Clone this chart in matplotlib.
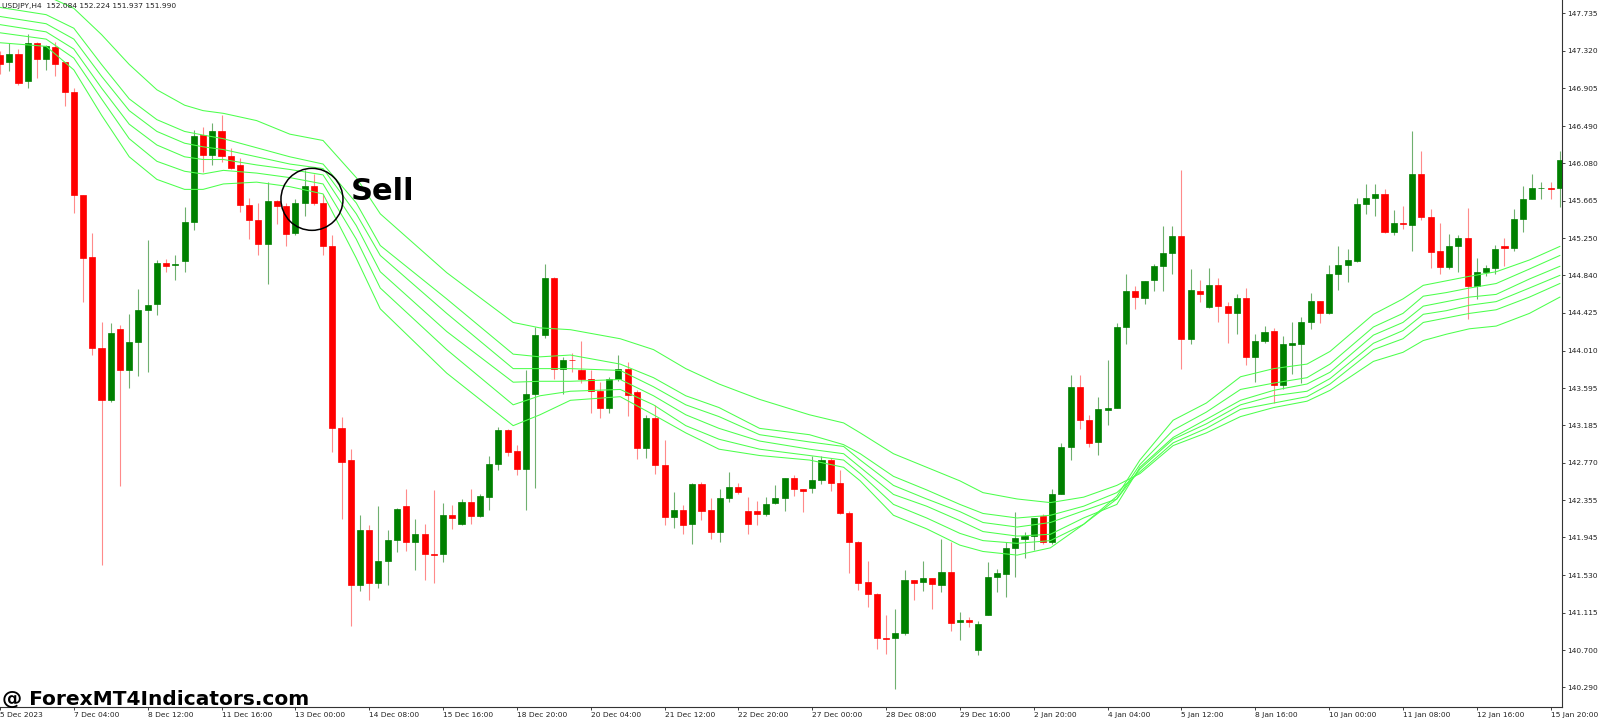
import matplotlib
matplotlib.use("Agg")
import matplotlib.pyplot as plt
from matplotlib.patches import Ellipse

SYMBOL_TEXT = "USDJPY,H4  152.084 152.224 151.937 151.990"
WATERMARK = "@ ForexMT4Indicators.com"

opens = [
    147.27, 147.20, 147.29, 146.99, 147.41, 147.23, 147.36, 147.20, 146.87, 145.73,
    145.04, 144.04, 143.46, 144.25, 143.79, 144.10, 144.46, 144.52, 144.98, 144.95,
    145.00, 145.43, 146.39, 146.17, 146.43, 146.16, 146.06, 145.62, 145.45, 145.19,
    145.66, 145.61, 145.31, 145.64, 145.83, 145.64, 145.17, 143.15, 142.80, 141.42,
    142.03, 141.44, 141.69, 141.92, 142.29, 141.90, 141.98, 141.76, 141.76, 142.19,
    142.09, 142.34, 142.18, 142.39, 142.76, 143.13, 142.90, 142.70, 143.53, 144.18,
    144.81, 143.81, 143.91, 143.80, 143.70, 143.56, 143.38, 143.69, 143.81, 143.55,
    142.93, 143.27, 142.74, 142.17, 142.25, 142.09, 142.54, 142.25, 142.01, 142.38,
    142.50, 142.24, 142.24, 142.20, 142.33, 142.38, 142.60, 142.48, 142.49, 142.58,
    142.80, 142.55, 142.21, 141.90, 141.45, 141.32, 140.83, 140.83, 140.89, 141.47,
    141.45, 141.50, 141.42, 141.56, 141.01, 141.03, 140.70, 141.09, 141.51, 141.54,
    141.83, 141.93, 141.96, 142.18, 141.90, 142.43, 142.94, 143.61, 143.24, 143.00,
    143.35, 143.38, 144.27, 144.67, 144.59, 144.79, 144.94, 145.09, 145.28, 144.14,
    144.67, 144.49, 144.73, 144.50, 144.42, 144.59, 143.94, 144.11, 144.23, 143.63,
    144.07, 144.08, 144.32, 144.56, 144.42, 144.86, 144.95, 145.00, 145.63, 145.70,
    145.74, 145.32, 145.42, 145.40, 145.96, 145.49, 145.11, 144.93, 145.16, 145.25,
    144.72, 144.88, 144.92, 145.16, 145.14, 145.46, 145.68, 145.80, 145.80, 145.81,
]

highs = [
    147.32, 147.41, 147.34, 147.51, 147.42, 147.39, 147.42, 147.20, 146.91, 145.73,
    145.31, 144.33, 144.31, 144.29, 144.41, 144.69, 145.23, 145.01, 145.02, 145.07,
    145.59, 146.45, 146.48, 146.52, 146.61, 146.25, 146.14, 145.69, 145.64, 145.87,
    145.67, 145.64, 145.68, 146.00, 145.96, 145.74, 145.29, 143.28, 142.92, 142.19,
    142.08, 142.29, 142.03, 142.27, 142.48, 142.15, 142.09, 142.47, 142.33, 142.30,
    142.37, 142.48, 142.42, 142.84, 143.17, 143.14, 142.97, 143.80, 144.27, 144.97,
    144.82, 143.94, 143.98, 144.11, 143.79, 143.66, 143.72, 143.96, 143.88, 143.57,
    143.30, 143.41, 143.02, 142.45, 142.30, 142.55, 142.56, 142.38, 142.48, 142.67,
    142.55, 142.39, 142.35, 142.39, 142.52, 142.60, 142.63, 142.48, 142.85, 142.85,
    142.82, 142.69, 142.24, 141.91, 141.68, 141.33, 141.09, 141.15, 141.59, 141.47,
    141.68, 141.50, 141.93, 141.89, 141.12, 141.07, 141.02, 141.67, 141.60, 141.89,
    142.23, 142.01, 142.16, 142.20, 142.48, 142.99, 143.74, 143.74, 143.30, 143.50,
    143.90, 144.31, 144.85, 144.72, 144.78, 144.97, 145.39, 145.39, 146.00, 144.91,
    144.79, 144.92, 144.81, 144.55, 144.63, 144.70, 144.19, 144.28, 144.26, 144.17,
    144.33, 144.38, 144.65, 144.56, 144.95, 145.17, 145.13, 145.69, 145.85, 145.85,
    145.79, 145.56, 145.61, 146.43, 146.21, 145.57, 145.42, 145.30, 145.29, 145.58,
    145.03, 144.96, 145.18, 145.25, 145.57, 145.83, 145.96, 145.87, 145.87, 146.21,
]

lows = [
    147.06, 147.10, 146.94, 146.91, 147.02, 147.11, 147.04, 146.71, 145.53, 144.55,
    143.96, 141.64, 143.44, 142.51, 143.60, 143.73, 143.77, 144.40, 144.88, 144.79,
    144.88, 145.34, 145.98, 146.06, 146.09, 146.02, 145.54, 145.24, 145.07, 144.74,
    145.41, 145.17, 145.29, 145.50, 145.62, 145.06, 142.89, 142.15, 140.97, 141.35,
    141.25, 141.39, 141.42, 141.78, 141.80, 141.58, 141.48, 141.44, 141.67, 142.04,
    142.08, 142.09, 142.17, 142.25, 142.69, 142.85, 142.63, 142.25, 142.49, 144.15,
    143.70, 143.53, 143.77, 143.65, 143.32, 143.27, 143.32, 143.67, 143.29, 142.81,
    142.82, 142.65, 142.08, 142.05, 141.98, 141.87, 142.14, 141.93, 141.90, 142.34,
    142.42, 141.98, 142.08, 142.18, 142.31, 142.24, 142.40, 142.23, 142.44, 142.53,
    142.46, 142.20, 141.55, 141.36, 141.18, 140.71, 140.66, 140.27, 140.87, 141.25,
    141.35, 141.15, 141.34, 140.91, 140.81, 140.96, 140.65, 141.09, 141.34, 141.29,
    141.51, 141.72, 141.81, 141.87, 141.87, 142.42, 142.80, 143.14, 142.94, 142.86,
    143.19, 143.37, 144.08, 144.47, 144.52, 144.67, 144.67, 144.85, 143.81, 144.08,
    144.55, 144.48, 144.33, 144.09, 144.19, 143.85, 143.66, 144.09, 143.43, 143.58,
    143.75, 143.65, 144.25, 144.31, 144.41, 144.68, 144.77, 144.99, 145.52, 145.50,
    145.31, 145.29, 145.35, 145.11, 145.45, 144.92, 144.85, 144.91, 144.88, 144.36,
    144.58, 144.83, 144.85, 144.94, 145.11, 145.32, 145.68, 145.68, 145.68, 145.59,
]

closes = [
    147.18, 147.29, 146.97, 147.41, 147.23, 147.37, 147.18, 146.87, 145.73, 145.03,
    144.04, 143.46, 144.20, 143.79, 144.10, 144.46, 144.51, 144.98, 144.94, 144.97,
    145.43, 146.38, 146.17, 146.43, 146.16, 146.03, 145.62, 145.45, 145.19, 145.66,
    145.61, 145.30, 145.64, 145.83, 145.64, 145.17, 143.15, 142.78, 141.42, 142.03,
    141.44, 141.69, 141.92, 142.26, 141.90, 141.98, 141.76, 141.75, 142.19, 142.16,
    142.34, 142.18, 142.40, 142.76, 143.13, 142.89, 142.70, 143.53, 144.18, 144.81,
    143.81, 143.91, 143.90, 143.70, 143.56, 143.38, 143.69, 143.81, 143.52, 142.93,
    143.27, 142.74, 142.17, 142.25, 142.08, 142.54, 142.24, 142.01, 142.38, 142.50,
    142.45, 142.09, 142.20, 142.31, 142.38, 142.60, 142.48, 142.46, 142.58, 142.80,
    142.55, 142.21, 141.90, 141.44, 141.32, 140.83, 140.82, 140.89, 141.47, 141.44,
    141.50, 141.43, 141.56, 141.00, 141.03, 141.01, 140.99, 141.51, 141.55, 141.83,
    141.94, 141.96, 142.16, 141.90, 142.43, 142.94, 143.61, 143.24, 142.99, 143.36,
    143.38, 144.27, 144.67, 144.60, 144.78, 144.94, 145.09, 145.28, 144.14, 144.68,
    144.63, 144.73, 144.50, 144.42, 144.59, 143.94, 144.11, 144.22, 143.63, 144.08,
    144.09, 144.32, 144.56, 144.42, 144.86, 144.95, 145.01, 145.63, 145.70, 145.74,
    145.32, 145.42, 145.41, 145.96, 145.49, 145.10, 144.93, 145.16, 145.25, 144.72,
    144.88, 144.92, 145.13, 145.14, 145.46, 145.68, 145.80, 145.81, 145.79, 146.11,
]

# ribbon of six moving averages, sampled at these bar positions (fast -> slow)
ribbon_bars = [
    0, 5, 8, 11, 14, 17, 20, 22, 24.2, 27.8,
    31.4, 35, 38.6, 41.2, 48.4, 55.6, 58.5, 61.8, 67.2, 70.8,
    74.3, 77.9, 82.3, 87.7, 91.4, 93.2, 96.8, 100.4, 104, 106.5,
    110.2, 113.8, 117.4, 121, 123.5, 127.1, 130.7, 134.4, 138, 141.6,
    144.1, 148.8, 152, 154.2, 156.7, 159.2, 162.1, 165.7, 169,
]
ma_1 = [
    147.41, 147.37, 147.11, 146.61, 146.15, 145.90, 145.79, 145.79, 145.85, 145.87,
    145.82, 145.74, 145.03, 144.47, 143.76, 143.18, 143.30, 143.46, 143.50, 143.30,
    143.10, 142.92, 142.85, 142.80, 142.72, 142.57, 142.19, 142.04, 141.86, 141.79,
    141.75, 141.83, 142.09, 142.40, 142.80, 143.24, 143.43, 143.72, 143.81, 143.86,
    144.00, 144.41, 144.58, 144.73, 144.78, 144.83, 144.88, 145.01, 145.16,
]
ma_2 = [
    147.52, 147.45, 147.24, 146.79, 146.35, 146.10, 145.99, 145.96, 146.00, 145.97,
    145.92, 145.85, 145.24, 144.70, 144.02, 143.41, 143.51, 143.56, 143.58, 143.41,
    143.18, 143.03, 142.92, 142.85, 142.80, 142.65, 142.31, 142.16, 141.99, 141.91,
    141.88, 141.91, 142.09, 142.37, 142.75, 143.13, 143.33, 143.58, 143.65, 143.71,
    143.86, 144.27, 144.42, 144.61, 144.65, 144.70, 144.75, 144.91, 145.06,
]
ma_3 = [
    147.61, 147.53, 147.34, 146.91, 146.51, 146.28, 146.15, 146.12, 146.12, 146.06,
    146.01, 145.95, 145.39, 144.88, 144.22, 143.66, 143.67, 143.67, 143.69, 143.51,
    143.30, 143.15, 143.01, 142.92, 142.87, 142.72, 142.42, 142.29, 142.13, 142.01,
    141.96, 141.98, 142.16, 142.31, 142.72, 143.05, 143.25, 143.46, 143.57, 143.64,
    143.77, 144.18, 144.32, 144.50, 144.55, 144.60, 144.63, 144.80, 144.94,
]
ma_4 = [
    147.70, 147.62, 147.45, 147.04, 146.66, 146.43, 146.30, 146.26, 146.23, 146.15,
    146.07, 146.02, 145.52, 145.06, 144.42, 143.81, 143.81, 143.81, 143.79, 143.61,
    143.41, 143.28, 143.08, 143.00, 142.95, 142.80, 142.52, 142.37, 142.23, 142.11,
    142.06, 142.11, 142.24, 142.37, 142.70, 143.03, 143.20, 143.41, 143.51, 143.56,
    143.70, 144.09, 144.23, 144.41, 144.45, 144.51, 144.55, 144.70, 144.84,
]
ma_5 = [
    147.80, 147.72, 147.57, 147.17, 146.79, 146.56, 146.43, 146.39, 146.35, 146.25,
    146.15, 146.07, 145.64, 145.17, 144.58, 143.97, 143.94, 143.96, 143.86, 143.71,
    143.51, 143.38, 143.15, 143.08, 142.97, 142.87, 142.62, 142.47, 142.31, 142.21,
    142.16, 142.19, 142.29, 142.44, 142.67, 142.99, 143.15, 143.36, 143.43, 143.50,
    143.64, 144.02, 144.14, 144.32, 144.37, 144.42, 144.46, 144.60, 144.75,
]
ma_6 = [
    148.03, 147.93, 147.79, 147.50, 147.17, 146.89, 146.72, 146.66, 146.63, 146.55,
    146.40, 146.33, 145.92, 145.52, 144.87, 144.32, 144.26, 144.24, 144.14, 144.02,
    143.81, 143.64, 143.47, 143.30, 143.21, 143.10, 142.87, 142.72, 142.57, 142.44,
    142.37, 142.33, 142.39, 142.52, 142.65, 142.96, 143.10, 143.28, 143.38, 143.45,
    143.57, 143.89, 143.99, 144.12, 144.19, 144.25, 144.28, 144.42, 144.60,
]

date_labels = [
    "5 Dec 2023", "7 Dec 04:00", "8 Dec 12:00", "11 Dec 16:00", "13 Dec 00:00",
    "14 Dec 08:00", "15 Dec 16:00", "18 Dec 20:00", "20 Dec 04:00", "21 Dec 12:00",
    "22 Dec 20:00", "27 Dec 00:00", "28 Dec 08:00", "29 Dec 16:00", "2 Jan 20:00",
    "4 Jan 04:00", "5 Jan 12:00", "8 Jan 16:00", "10 Jan 00:00", "11 Jan 08:00",
    "12 Jan 16:00", "15 Jan 20:00",
]
price_ticks = [
    "147.735", "147.320", "146.905", "146.490", "146.080", "145.665", "145.250",
    "144.840", "144.425", "144.010", "143.595", "143.185", "142.770", "142.355",
    "141.945", "141.530", "141.115", "140.700", "140.290",
]

BULL = "#008000"
BEAR = "#ff0000"
BULL_WICK = "#6fb06f"
BEAR_WICK = "#ff8a8a"
RIBBON = "#4cff4c"


def draw_candles(ax):
    idx = list(range(len(opens)))
    for i in idx:
        up = closes[i] >= opens[i]
        ax.vlines(i, lows[i], highs[i], color=BULL_WICK if up else BEAR_WICK,
                  linewidth=0.8, zorder=2)
    bottoms = [min(o, c) for o, c in zip(opens, closes)]
    heights = [max(abs(c - o), 0.004) for o, c in zip(opens, closes)]
    colors = [BULL if c >= o else BEAR for o, c in zip(opens, closes)]
    ax.bar(idx, heights, bottom=bottoms, width=0.66, color=colors,
           edgecolor=colors, linewidth=0.5, zorder=3)


def draw_ribbon(ax):
    for series in (ma_1, ma_2, ma_3, ma_4, ma_5, ma_6):
        ax.plot(ribbon_bars, series, color=RIBBON, linewidth=0.75, zorder=4)


def main():
    fig = plt.figure(figsize=(16, 7.22), dpi=100)
    ax = fig.add_axes([0, 15 / 722, 1562 / 1600, 707 / 722])

    draw_candles(ax)
    draw_ribbon(ax)

    ax.set_xlim(0, 1562 / 9.23)
    ax.set_ylim(140.072, 147.882)

    ax.set_xticks(list(range(0, 8 * len(date_labels), 8)))
    ax.set_xticklabels(date_labels)
    for lab in ax.get_xticklabels():
        lab.set_horizontalalignment("left")
    ax.yaxis.tick_right()
    ax.set_yticks([float(p) for p in price_ticks])
    ax.set_yticklabels(price_ticks)
    ax.tick_params(axis="both", labelsize=5.4, colors="#222222", length=2.2,
                   width=0.6, pad=1.2)

    for side in ("left", "top"):
        ax.spines[side].set_visible(False)
    for side in ("right", "bottom"):
        ax.spines[side].set_color("#333333")
        ax.spines[side].set_linewidth(0.8)

    # sell signal marker
    ax.add_patch(Ellipse((33.8, 145.68), width=6.72, height=0.685, fill=False,
                         edgecolor="black", linewidth=1.1, zorder=6))
    ax.text(38.0, 145.673, "Sell", fontsize=22, fontweight="bold",
            va="baseline", ha="left", color="black", zorder=6)

    fig.text(2 / 1600, 1 - 6 / 722, SYMBOL_TEXT, fontsize=5.4, color="#222222",
             va="center", ha="left")
    fig.text(2 / 1600, 1 - 705 / 722, WATERMARK, fontsize=14.5, fontweight="bold",
             va="baseline", ha="left", color="black")

    fig.savefig("out.png", dpi=100)


if __name__ == "__main__":
    main()
